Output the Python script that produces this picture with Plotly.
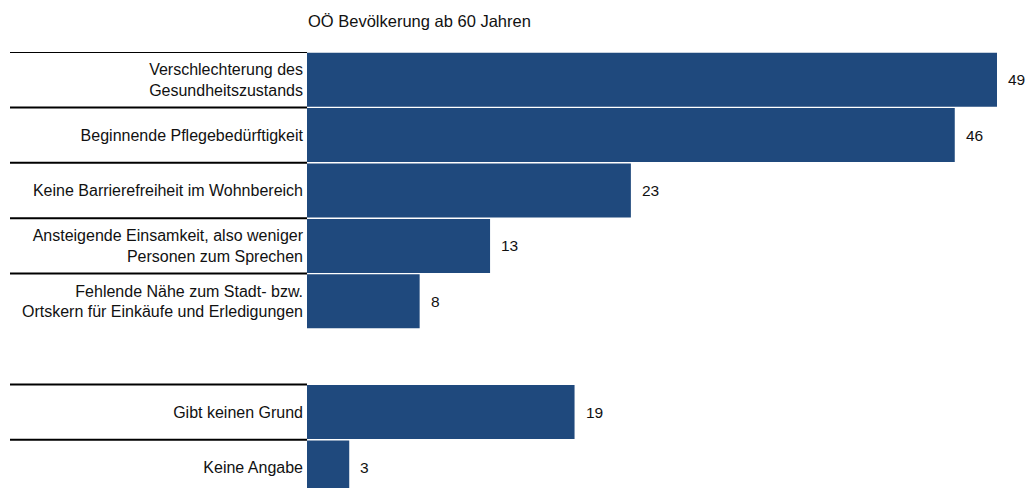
import plotly.graph_objects as go

categories = [
    "Verschlechterung des<br>Gesundheitszustands",
    "Beginnende Pflegebedürftigkeit",
    "Keine Barrierefreiheit im Wohnbereich",
    "Ansteigende Einsamkeit, also weniger<br>Personen zum Sprechen",
    "Fehlende Nähe zum Stadt- bzw.<br>Ortskern für Einkäufe und Erledigungen",
    " ",
    "Gibt keinen Grund",
    "Keine Angabe",
]
values = [49, 46, 23, 13, 8, None, 19, 3]
title_text = "OÖ Bevölkerung ab 60 Jahren"

BAR = "#1F497D"
FONT = "Liberation Sans, Arial, sans-serif"
TXT = "#111111"
W, H = 1030, 488
L, T = 307, 52
slot = 55.4
n = len(categories)
bottom_pad = (T + slot * n) - H  # plot extends slightly below page
plot_h = H - T
plot_w = W - L

fig = go.Figure()
fig.add_trace(go.Bar(
    y=categories, x=[v if v is not None else 0 for v in values],
    orientation="h", marker=dict(color=BAR, line=dict(width=0)),
    width=0.975, hoverinfo="skip",
))

for c, v in zip(categories, values):
    if v is None:
        continue
    fig.add_annotation(x=v, y=c, xref="x", yref="y", text=str(v), showarrow=False,
                       xanchor="left", yanchor="middle", xshift=9,
                       font=dict(family=FONT, size=15.5, color=TXT))

# separator lines above each real label
x0_paper = (10 - L) / plot_w
for i, (c, v) in enumerate(zip(categories, values)):
    if v is None:
        continue
    fig.add_shape(type="line", xref="paper", yref="y", x0=x0_paper, x1=0,
                  y0=i - 0.5, y1=i - 0.5, line=dict(color="#000000", width=2))

fig.add_annotation(x=0, y=1 + (T - 21) / plot_h, xref="paper", yref="paper",
                   text=title_text, showarrow=False,
                   xanchor="left", yanchor="middle", xshift=-1,
                   font=dict(family=FONT, size=16.5, color=TXT))

range_bottom = (n - 0.5) - bottom_pad / slot
fig.update_layout(
    width=W, height=H,
    margin=dict(l=L, r=0, t=T, b=0, pad=0),
    paper_bgcolor="white", plot_bgcolor="white",
    showlegend=False,
    font=dict(family=FONT, size=16, color=TXT),
    xaxis=dict(range=[0, plot_w / ((997 - 307) / 49)], visible=False, fixedrange=True),
    yaxis=dict(type="category", categoryorder="array", categoryarray=categories,
               range=[range_bottom, -0.5], showgrid=False, zeroline=False,
               showline=False, ticks="", ticklabelstandoff=3, automargin=False,
               fixedrange=True,
               tickfont=dict(family=FONT, size=16, color=TXT)),
)

fig.write_html("out.html", config={"displayModeBar": False, "staticPlot": True},
               post_script="document.body.style.margin='0';document.body.style.overflow='hidden';")
